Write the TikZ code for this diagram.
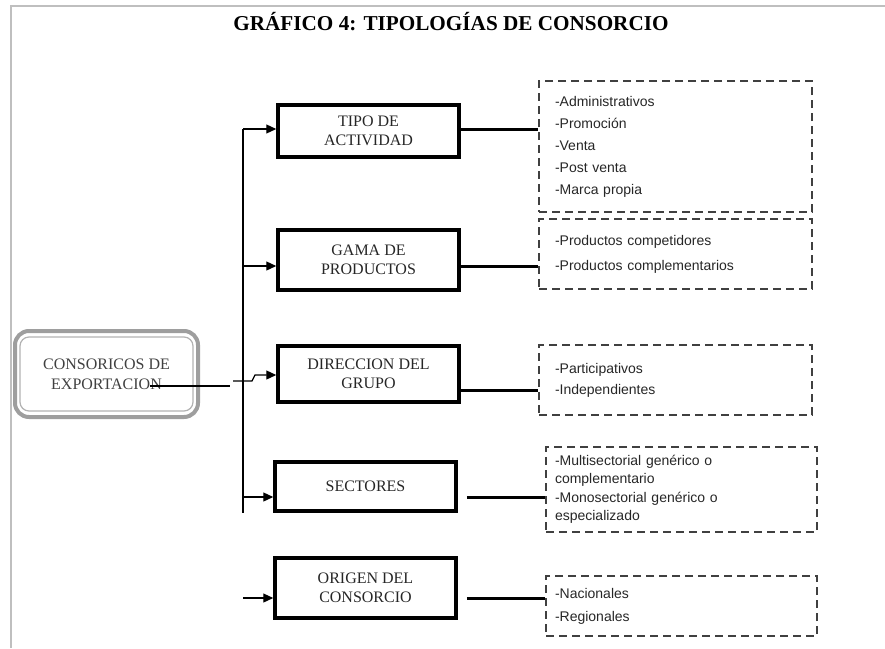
\documentclass[tikz,border=0pt]{standalone}
\usepackage{fontspec}
\setmainfont{Liberation Serif}
\newfontfamily\itemfont{Liberation Sans}
\usetikzlibrary{arrows.meta,calc}

\tikzset{
  typebox/.style={draw,line width=3.5pt,minimum width=181pt,align=center,text=black!85,
    font=\fontsize{16}{19.5}\selectfont},
  listbox/.style={draw=black!75,line width=1.8pt,dash pattern=on 8pt off 5pt,align=left,
    inner xsep=0pt,text=black!85},
  feed/.style={line width=1.2pt,-{Triangle[length=10pt,width=9pt]}},
  link/.style={line width=3pt},
}

\begin{document}
\begin{tikzpicture}[x=1pt,y=-1pt]
		\useasboundingbox (0,0) rectangle (885,648);
		% page frame and title
		\draw[black!25,line width=2pt] (11,648) -- (11,6) -- (885,6);
		\node (title) at (451,22) {\fontsize{21.2}{24}\selectfont\bfseries GRÁFICO 4: TIPOLOGÍAS DE CONSORCIO};
		% consortium box
		\node[draw=black!38,line width=4pt,rounded corners=14pt,minimum width=183pt,minimum height=86pt] (cons) at (106.5,374) {};
		\node[draw=black!30,line width=1.2pt,rounded corners=9pt,minimum width=173pt,minimum height=74pt,
			align=center,text=black!75,font=\fontsize{16}{20}\selectfont] (consin) at (cons.center) {CONSORICOS DE\\EXPORTACION};
		% typology boxes
		\node[typebox,minimum height=52pt] (tipo) at (368.5,131) {TIPO DE\\ACTIVIDAD};
		\node[typebox,minimum height=60pt] (gama) at (368.5,260) {GAMA DE\\PRODUCTOS};
		\node[typebox,minimum height=56pt] (dir) at (368.5,374) {DIRECCION DEL\\GRUPO};
		\node[typebox,minimum height=49pt] (sect) at (365.5,486.5) {SECTORES};
		\node[typebox,minimum height=60pt] (orig) at (365.5,588) {ORIGEN DEL\\CONSORCIO};
		% dashed lists
		\node[listbox,minimum width=273pt,minimum height=131pt,text width=241pt,font=\itemfont\fontsize{14}{22}\selectfont] (act) at (675.5,146.5)
			{-Administrativos\\-Promoción\\-Venta\\-Post venta\\-Marca propia};
		\node[listbox,minimum width=273pt,minimum height=70pt,text width=241pt,font=\itemfont\fontsize{14}{25}\selectfont] (prod) at (675.5,254)
			{-Productos competidores\\-Productos complementarios};
		\node[listbox,minimum width=273pt,minimum height=70pt,text width=241pt,font=\itemfont\fontsize{14}{21}\selectfont] (grp) at (675.5,380)
			{-Participativos\\-Independientes};
		\node[listbox,minimum width=271pt,minimum height=85pt,text width=253pt,font=\itemfont\fontsize{14}{18.5}\selectfont] (sec) at (681.5,489.5)
			{-Multisectorial genérico o\\complementario\\-Monosectorial genérico o\\especializado};
		\node[listbox,minimum width=271pt,minimum height=60pt,text width=253pt,font=\itemfont\fontsize{14}{23}\selectfont] (ori) at (681.5,606)
			{-Nacionales\\-Regionales};
		% feed from the consortium box
		\coordinate (out) at (150,386);
		\coordinate (outend) at (230,386);
		\coordinate (s1) at (233,381);
		\coordinate (s2) at (252,381);
		\coordinate (s3) at (255,375);
		\draw[line width=1.2pt] (out) -- (outend);
		\draw[feed] (s1) -- (s2) -- (s3) -- (s3 -| dir.west);
		% bus with arrows
		\coordinate (bustop) at (243,129);
		\coordinate (b2) at (243,266);
		\coordinate (b4) at (243,497);
		\coordinate (busbot) at (243,513);
		\coordinate (b5) at (243,598);
		\draw[line width=1.2pt] (bustop) -- (busbot);
		\draw[feed] (bustop) -- (bustop -| tipo.west);
		\draw[feed] (b2) -- (b2 -| gama.west);
		\draw[feed] (b4) -- (b4 -| sect.west);
		\draw[feed] (b5) -- (b5 -| orig.west);
		% links to the lists
		\coordinate (y3) at (0,390);
		\draw[link] (bustop -| tipo.east) -- (bustop -| act.west);
		\draw[link] (b2 -| gama.east) -- (b2 -| prod.west);
		\draw[link] (y3 -| dir.east) -- (y3 -| grp.west);
		\draw[link] ($(b4 -| sect.east)+(9,0)$) -- (b4 -| sec.west);
		\draw[link] ($(b5 -| orig.east)+(9,0)$) -- (b5 -| ori.west);
	\end{tikzpicture}
\end{document}
